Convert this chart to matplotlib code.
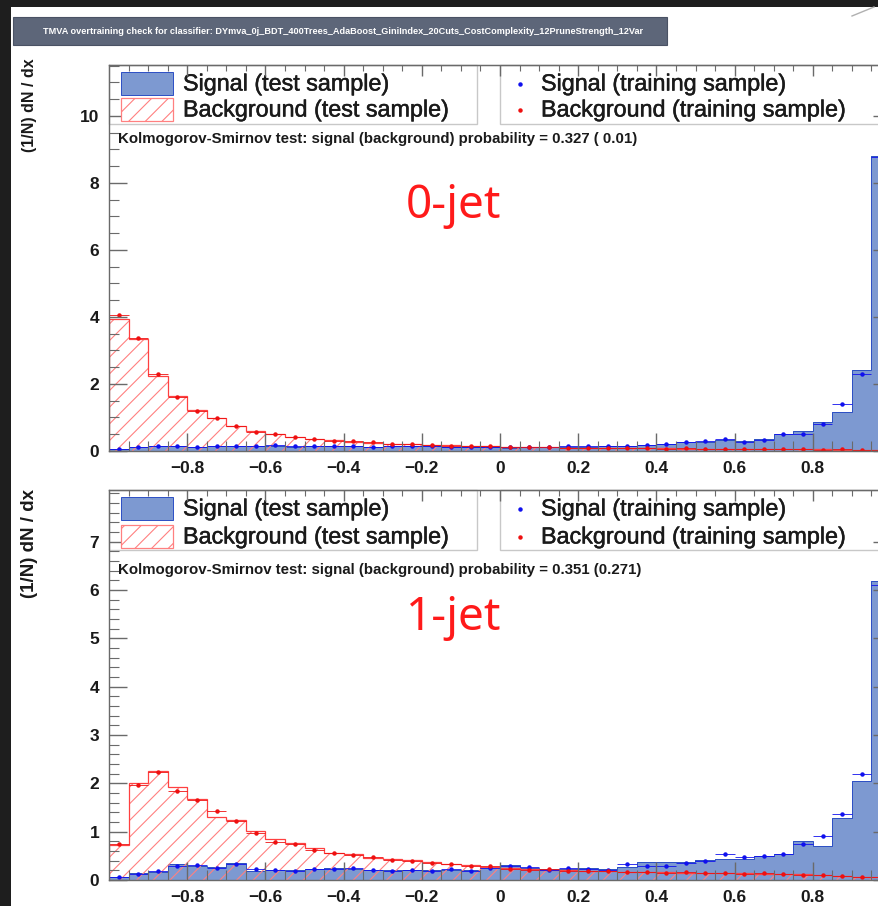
import matplotlib
matplotlib.use("Agg")
import matplotlib.pyplot as plt
import matplotlib.patheffects as pe
import numpy as np
from matplotlib.patches import Rectangle
from matplotlib.lines import Line2D

plt.rcParams["font.family"] = ["Liberation Sans", "DejaVu Sans"]
plt.rcParams["hatch.linewidth"] = 0.8

W, H = 879, 906

# ---- data: 40 bins on [-1, 1], normalised (1/N) dN/dx ----
edges = np.linspace(-1, 1, 41)
centers = 0.5 * (edges[:-1] + edges[1:])

sig_test_0j = [0.05, 0.12, 0.14, 0.15, 0.13, 0.14, 0.15, 0.14, 0.16, 0.13,
               0.15, 0.16, 0.14, 0.13, 0.14, 0.15, 0.14, 0.13, 0.12, 0.12,
               0.10, 0.11, 0.12, 0.13, 0.13, 0.15, 0.16, 0.18, 0.20, 0.28,
               0.28, 0.33, 0.31, 0.36, 0.51, 0.61, 0.87, 1.15, 2.43, 8.80]
sig_train_0j = [0.06, 0.11, 0.15, 0.14, 0.13, 0.15, 0.14, 0.15, 0.17, 0.14,
                0.14, 0.15, 0.15, 0.12, 0.15, 0.14, 0.15, 0.12, 0.13, 0.11,
                0.11, 0.12, 0.12, 0.14, 0.14, 0.16, 0.16, 0.18, 0.21, 0.27,
                0.29, 0.36, 0.28, 0.33, 0.50, 0.52, 0.82, 1.40, 2.29, 8.76]
bkg_test_0j = [3.95, 3.35, 2.25, 1.65, 1.22, 0.97, 0.75, 0.60, 0.50, 0.42,
               0.36, 0.32, 0.28, 0.25, 0.22, 0.20, 0.18, 0.17, 0.15, 0.14,
               0.13, 0.12, 0.11, 0.10, 0.10, 0.09, 0.09, 0.08, 0.08, 0.07,
               0.07, 0.07, 0.06, 0.06, 0.06, 0.05, 0.05, 0.04, 0.04, 0.04]
bkg_train_0j = [4.05, 3.38, 2.30, 1.62, 1.20, 0.98, 0.76, 0.58, 0.52, 0.43,
                0.37, 0.31, 0.29, 0.26, 0.22, 0.21, 0.19, 0.16, 0.15, 0.14,
                0.13, 0.11, 0.12, 0.10, 0.09, 0.10, 0.08, 0.09, 0.07, 0.08,
                0.06, 0.07, 0.07, 0.05, 0.06, 0.05, 0.04, 0.05, 0.04, 0.03]

sig_test_1j = [0.07, 0.14, 0.17, 0.33, 0.29, 0.27, 0.36, 0.19, 0.20, 0.20,
               0.22, 0.24, 0.22, 0.21, 0.20, 0.20, 0.20, 0.20, 0.20, 0.26,
               0.31, 0.25, 0.22, 0.22, 0.25, 0.22, 0.27, 0.37, 0.38, 0.38,
               0.41, 0.44, 0.44, 0.50, 0.53, 0.81, 0.70, 1.29, 2.05, 6.18]
sig_train_1j = [0.06, 0.12, 0.18, 0.30, 0.31, 0.25, 0.33, 0.22, 0.21, 0.18,
                0.23, 0.22, 0.24, 0.20, 0.18, 0.21, 0.19, 0.22, 0.18, 0.24,
                0.30, 0.27, 0.20, 0.24, 0.23, 0.20, 0.33, 0.30, 0.29, 0.36,
                0.40, 0.53, 0.47, 0.50, 0.53, 0.74, 0.91, 1.37, 2.19, 6.10]
bkg_test_1j = [0.72, 2.01, 2.26, 1.93, 1.67, 1.31, 1.25, 1.02, 0.84, 0.76,
               0.66, 0.55, 0.53, 0.46, 0.43, 0.41, 0.38, 0.34, 0.31, 0.27,
               0.24, 0.22, 0.21, 0.20, 0.19, 0.18, 0.17, 0.17, 0.16, 0.15,
               0.15, 0.14, 0.14, 0.13, 0.13, 0.12, 0.10, 0.08, 0.07, 0.06]
bkg_train_1j = [0.75, 1.97, 2.24, 1.85, 1.66, 1.42, 1.22, 0.98, 0.78, 0.75,
                0.62, 0.55, 0.52, 0.47, 0.42, 0.40, 0.36, 0.33, 0.30, 0.28,
                0.23, 0.21, 0.22, 0.19, 0.18, 0.19, 0.16, 0.17, 0.15, 0.16,
                0.14, 0.15, 0.13, 0.14, 0.12, 0.11, 0.10, 0.08, 0.06, 0.06]

x_ticks = [-0.8, -0.6, -0.4, -0.2, 0.0, 0.2, 0.4, 0.6, 0.8]
x_labels = ["\u22120.8", "\u22120.6", "\u22120.4", "\u22120.2", "0", "0.2", "0.4", "0.6", "0.8"]

title = ("TMVA overtraining check for classifier: DYmva_0j_BDT_400Trees_AdaBoost_"
         "GiniIndex_20Cuts_CostComplexity_12PruneStrength_12Var")
ks_0j = "Kolmogorov-Smirnov test: signal (background) probability = 0.327 ( 0.01)"
ks_1j = "Kolmogorov-Smirnov test: signal (background) probability = 0.351 (0.271)"
leg_labels = ["Signal (test sample)", "Background (test sample)",
              "Signal (training sample)", "Background (training sample)"]

SIG_FILL = "#7d99d1"
SIG_LINE = "#2c4fc4"
BKG_LINE = "#ff4040"
BKG_HATCH = "#ff8080"
FRAME = "#6a6a6a"
TXT = "#1a1a1a"
thicken = [pe.withStroke(linewidth=0.35, foreground=TXT)]


def fx(px):
    return px / W


def fy(py):
    return 1 - py / H


fig = plt.figure(figsize=(W / 100, H / 100), dpi=100)
fig.patch.set_facecolor("white")

# dark screenshot border
fig.add_artist(Rectangle((0, 0), fx(11), 1, transform=fig.transFigure,
                         facecolor="#1e1e1e", edgecolor="none", zorder=10))
fig.add_artist(Rectangle((0, fy(7)), 1, 7 / H, transform=fig.transFigure,
                         facecolor="#1e1e1e", edgecolor="none", zorder=10))
fig.add_artist(Line2D([fx(852), fx(874)], [fy(16), fy(7)], transform=fig.transFigure,
                      color="#b0b0b0", lw=1, zorder=11))

# title bar
fig.add_artist(Rectangle((fx(13), fy(45)), (667 - 13) / W, 28 / H, transform=fig.transFigure,
                         facecolor="#5d6679", edgecolor="#4a5264", lw=0.8))
fig.text(fx(343), fy(31), title, color="white", fontsize=6.6, fontweight="bold",
         ha="center", va="center")


def draw_panel(box, ymax, ymajor, yminor, sig_test, sig_train, bkg_test, bkg_train,
               ks_text, jet_text, jet_y, leg_rows, leg_bottom, ks_y, ylab_top, ylab_size):
    l, t, r, b = box
    ax = fig.add_axes([fx(l), fy(b), (r - l) / W, (b - t) / H])
    ax.set_axisbelow(False)

    def axc(px, py):
        return (px - l) / (r - l), (b - py) / (b - t)

    ax.stairs(sig_test, edges, fill=True, facecolor=SIG_FILL, edgecolor="none", zorder=1)
    ax.stairs(sig_test, edges, color=SIG_LINE, lw=0.7, zorder=1.1)
    ax.stairs(bkg_test, edges, fill=True, facecolor="none", edgecolor=BKG_HATCH,
              hatch="//", lw=0, zorder=1.2)
    ax.stairs(bkg_test, edges, color=BKG_LINE, lw=0.9, zorder=1.3)
    ax.errorbar(centers, sig_train, xerr=0.025, fmt="o", ms=2.2, color="#1010ee",
                elinewidth=0.6, capsize=0, zorder=1.5)
    ax.errorbar(centers, bkg_train, xerr=0.025, fmt="o", ms=2.2, color="#ee1010",
                elinewidth=0.6, capsize=0, zorder=1.5)

    ax.set_xlim(-1, 1)
    ax.set_ylim(0, ymax)
    ax.set_xticks(x_ticks, x_labels)
    ax.set_xticks(np.arange(-0.95, 1.0, 0.05), minor=True)
    ax.set_yticks(ymajor)
    ax.set_yticks(yminor, minor=True)
    ax.tick_params(which="both", direction="in", top=False, right=True, color=FRAME,
                   labelsize=12.5, labelcolor=TXT, pad=7)
    ax.tick_params(which="major", length=13, width=1)
    ax.tick_params(which="minor", length=7, width=0.8)
    for lab in ax.get_xticklabels() + ax.get_yticklabels():
        lab.set_fontweight("bold")
    for sp in ax.spines.values():
        sp.set_color(FRAME)
        sp.set_linewidth(1)

    # short ticks along the top edge, drawn over the legend boxes
    top = ax.secondary_xaxis("top")
    top.set_xticks(x_ticks)
    top.set_xticks(np.arange(-0.95, 1.0, 0.05), minor=True)
    top.tick_params(which="both", direction="in", color=FRAME, labeltop=False)
    top.tick_params(which="major", length=8, width=1)
    top.tick_params(which="minor", length=4, width=0.8)
    top.spines["top"].set_color(FRAME)
    top.set_zorder(5)

    # legend boxes
    for x0, x1 in [(l, 477), (500, 905)]:
        ax0, ay0 = axc(x0, leg_bottom)
        ax1, ay1 = axc(x1, t)
        ax.add_patch(Rectangle((ax0, ay0), ax1 - ax0, ay1 - ay0, transform=ax.transAxes,
                               facecolor="white", edgecolor="#c8c8c8", lw=1,
                               clip_on=False, zorder=2))
    sx0, sx1 = 121, 173
    for ry, kind in zip(leg_rows, ["sig", "bkg"]):
        a0, b0 = axc(sx0, ry + 11)
        a1, b1 = axc(sx1, ry - 12)
        if kind == "sig":
            ax.add_patch(Rectangle((a0, b0), a1 - a0, b1 - b0, transform=ax.transAxes,
                                   facecolor=SIG_FILL, edgecolor=SIG_LINE, lw=0.7,
                                   clip_on=False, zorder=3))
        else:
            ax.add_patch(Rectangle((a0, b0), a1 - a0, b1 - b0, transform=ax.transAxes,
                                   facecolor="white", edgecolor=BKG_HATCH, hatch="//",
                                   lw=0.9, clip_on=False, zorder=3))
    for ry, lab in zip(leg_rows, leg_labels[:2]):
        ax.text(*axc(183, ry), lab, transform=ax.transAxes, fontsize=16.8,
                color=TXT, ha="left", va="center", zorder=3, path_effects=thicken)
    for ry, lab, col in zip(leg_rows, leg_labels[2:], ["#1010ee", "#ee1010"]):
        ax.plot(*axc(520, ry), "o", ms=2.2, color=col, transform=ax.transAxes,
                clip_on=False, zorder=3)
        ax.text(*axc(541, ry), lab, transform=ax.transAxes, fontsize=16.8,
                color=TXT, ha="left", va="center", zorder=3, path_effects=thicken)

    ax.text(*axc(118, ks_y), ks_text, transform=ax.transAxes, fontsize=10.8,
            fontweight="bold", color=TXT, ha="left", va="center", zorder=3)
    ax.text(*axc(454, jet_y), jet_text, transform=ax.transAxes, fontsize=33,
            family=["Noto Sans", "DejaVu Sans"], color="#ff1a1a",
            ha="center", va="center", zorder=3)

    fig.text(fx(30), fy(ylab_top), "(1/N) dN / dx", rotation=90, fontsize=ylab_size,
             fontweight="bold", color=TXT, ha="center", va="top")
    return ax


draw_panel((109, 65, 891, 451), 11.52, [0, 2, 4, 6, 8, 10], np.arange(0, 11.6, 0.5),
           sig_test_0j, sig_train_0j, bkg_test_0j, bkg_train_0j,
           ks_0j, "0-jet", 206, (84, 110), 124, 139, 58, 11.5)
draw_panel((109, 490, 891, 880), 8.07, [0, 1, 2, 3, 4, 5, 6, 7], np.arange(0, 8.1, 0.2),
           sig_test_1j, sig_train_1j, bkg_test_1j, bkg_train_1j,
           ks_1j, "1-jet", 618, (509, 537), 550, 570, 489, 13.5)

fig.savefig("out.png", dpi=100)
